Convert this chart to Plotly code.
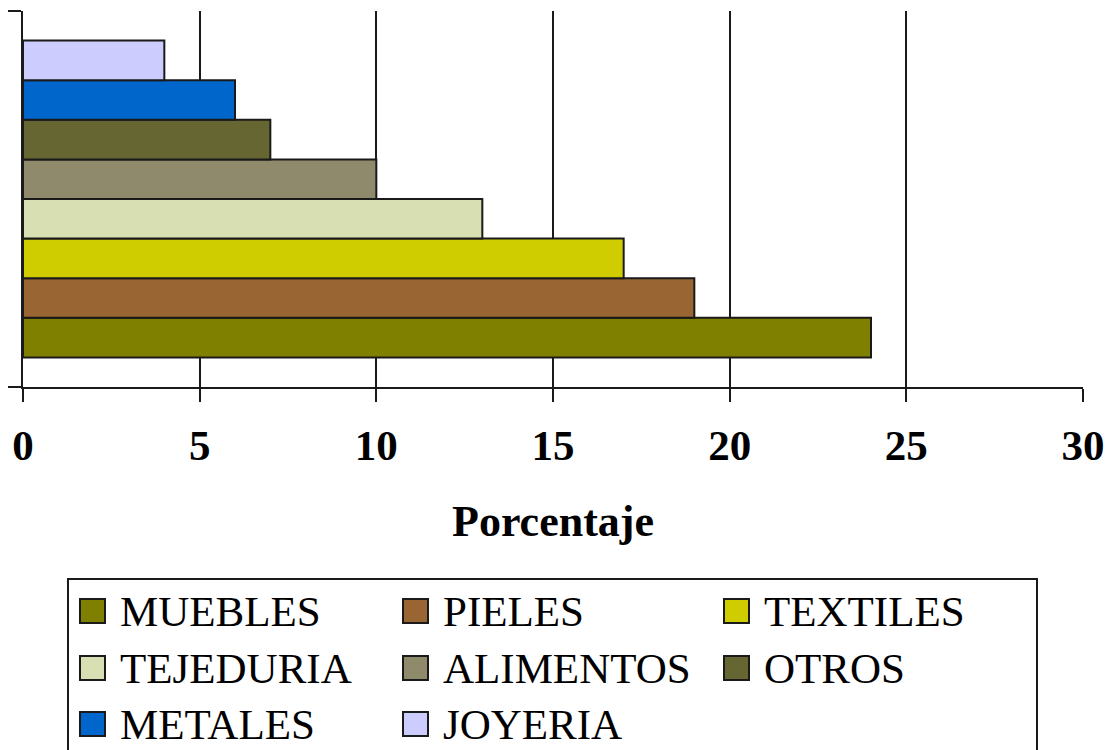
import plotly.graph_objects as go

# Sector shares (percent)
sectors = ["MUEBLES", "PIELES", "TEXTILES", "TEJEDURIA", "ALIMENTOS", "OTROS", "METALES", "JOYERIA"]
values = [24, 19, 17, 13, 10, 7, 6, 4]
colors = ["#808000", "#996633", "#CFCD00", "#D8DFB3", "#8F8A6C", "#666633", "#0066CC", "#CCCCFF"]
x_ticks = [0, 5, 10, 15, 20, 25, 30]

W, H = 1115, 750
ML, MR, MT, MB = 23, 32, 11, 363
PW, PH = W - ML - MR, H - MT - MB

SERIF = "Liberation Serif"
INK = "#1a1a1a"


def px_x(px):
    return (px - ML) / PW


def px_y(py):
    return (H - MB - py) / PH


fig = go.Figure()
for name, val, col in zip(sectors, values, colors):
    fig.add_trace(go.Bar(
        x=[val], y=[0], orientation="h", name=name,
        marker=dict(color=col, line=dict(color=INK, width=2)),
        showlegend=False,
    ))

# Hand-built legend: three columns, boxed, below the axis title
col_left = [80, 403, 724]
row_mid = [611, 668, 724]
shapes = [dict(type="rect", xref="paper", yref="paper",
               x0=px_x(68), x1=px_x(1037), y0=px_y(579), y1=px_y(765),
               line=dict(color=INK, width=2), fillcolor="rgba(0,0,0,0)")]
annotations = []
for i, (name, col) in enumerate(zip(sectors, colors)):
    cx = col_left[i % 3]
    cy = row_mid[i // 3]
    shapes.append(dict(type="rect", xref="paper", yref="paper",
                       x0=px_x(cx), x1=px_x(cx + 25),
                       y0=px_y(cy - 12), y1=px_y(cy + 12),
                       fillcolor=col, line=dict(color=INK, width=2)))
    annotations.append(dict(text=name, xref="paper", yref="paper",
                            x=px_x(cx + 38), y=px_y(cy),
                            xanchor="left", yanchor="middle", showarrow=False,
                            font=dict(family=SERIF, size=43, color="black")))

fig.update_layout(
    width=W, height=H, autosize=False,
    margin=dict(l=ML, r=MR, t=MT, b=MB, pad=0),
    paper_bgcolor="white", plot_bgcolor="white",
    barmode="group", bargap=0.157, bargroupgap=0,
    showlegend=False,
    shapes=shapes, annotations=annotations,
    xaxis=dict(
        range=[0, 30], tickvals=x_ticks, ticktext=[str(t) for t in x_ticks],
        showgrid=True, gridcolor=INK, gridwidth=2,
        showline=True, linecolor=INK, linewidth=2,
        ticks="outside", ticklen=13, tickwidth=2, tickcolor=INK,
        ticklabelstandoff=6,
        zeroline=False,
        tickfont=dict(family=SERIF, size=43, color="black", weight="bold"),
        title=dict(text="Porcentaje", standoff=38,
                   font=dict(family=SERIF, size=44, color="black", weight="bold")),
        automargin=False, fixedrange=True,
    ),
    yaxis=dict(
        range=[-0.5, 0.5], tickvals=[-0.5, 0.5], showticklabels=False,
        showgrid=True, gridcolor=INK, gridwidth=2,
        showline=True, linecolor=INK, linewidth=2,
        ticks="outside", ticklen=13, tickwidth=2, tickcolor=INK,
        zeroline=False, automargin=False, fixedrange=True,
    ),
)

fig.write_html("out.html")
